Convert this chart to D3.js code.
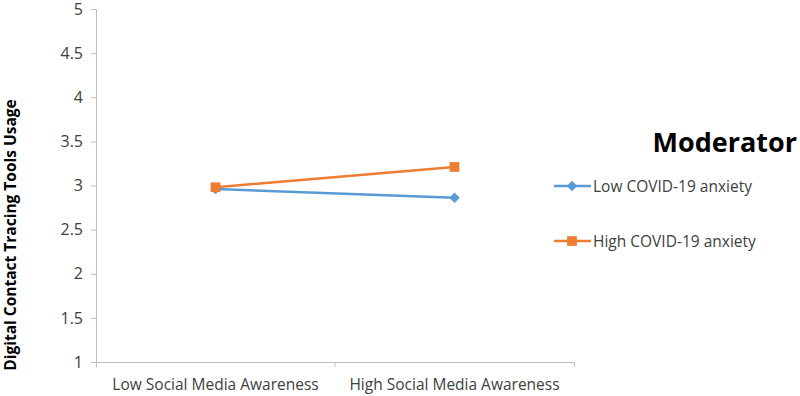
<!DOCTYPE html>
<html>
<head>
<meta charset="utf-8">
<script src="https://cdn.jsdelivr.net/npm/d3@7"></script>
<style>
  body { margin: 0; background: #fff; }
  text { font-family: "Open Sans", "Liberation Sans", sans-serif; }
</style>
</head>
<body>
<div id="container"></div>
<script>
/* DATA */
const categories = ["Low Social Media Awareness", "High Social Media Awareness"]
const lowAnxiety = [2.96, 2.86]
const highAnxiety = [2.98, 3.21]
const yTicks = [1, 1.5, 2, 2.5, 3, 3.5, 4, 4.5, 5]
const seriesNames = ["Low COVID-19 anxiety", "High COVID-19 anxiety"]

/* CONSTANTS */
const width = 800
const height = 396
const margin = { top: 9, bottom: 34, left: 96, right: 226 }
const colors = ["#5B9BD5", "#ED7D31"]

const svg = d3.select("#container")
  .append("svg")
  .attr("width", width)
  .attr("height", height)

/* SCALES */
const xScale = d3.scaleBand()
  .domain(categories)
  .range([margin.left, width - margin.right])

const yScale = d3.scaleLinear()
  .domain([1, 5])
  .range([height - margin.bottom, margin.top])

// axes
const yAxis = d3.axisLeft(yScale).tickValues(yTicks).tickSize(5).tickPadding(8)
  .tickFormat(d => d)
const gy = svg.append("g")
  .attr("transform", `translate(${margin.left},0)`)
  .call(yAxis)
gy.selectAll("line, path").attr("stroke", "#BFBFBF")
gy.selectAll("text").attr("font-size", 16).attr("fill", "#404040")

const xAxis = d3.axisBottom(xScale).tickSize(5).tickSizeOuter(5).tickPadding(12)
const gx = svg.append("g")
  .attr("transform", `translate(0,${height - margin.bottom})`)
  .call(xAxis)
gx.selectAll("path").attr("stroke", "#BFBFBF")
// Excel puts tick marks between categories
gx.selectAll(".tick line")
  .attr("x1", xScale.bandwidth() / 2).attr("x2", xScale.bandwidth() / 2)
  .attr("stroke", "#BFBFBF")
gx.selectAll(".tick").filter((d, i) => i === categories.length - 1).select("line").remove()
gx.selectAll("text").attr("font-size", 15.5).attr("fill", "#404040")

// y title
svg.append("text")
  .attr("transform", "translate(16,235) rotate(-90)")
  .attr("text-anchor", "middle")
  .attr("font-size", 15.5)
  .attr("font-weight", "bold")
  .attr("fill", "#000")
  .text("Digital Contact Tracing Tools Usage")

/* LINES */
const series = [lowAnxiety, highAnxiety]
const line = d3.line()
  .x((d, i) => xScale(categories[i]) + xScale.bandwidth() / 2)
  .y(d => yScale(d))

const diamond = d3.symbol().type(d3.symbolDiamond2).size(70)
const square = d3.symbol().type(d3.symbolSquare).size(95)

series.forEach((vals, s) => {
  svg.append("path")
    .datum(vals)
    .attr("d", line)
    .attr("fill", "none")
    .attr("stroke", colors[s])
    .attr("stroke-width", 2.5)
  svg.selectAll(".m" + s)
    .data(vals)
    .join("path")
    .attr("class", "m" + s)
    .attr("transform", (d, i) => `translate(${xScale(categories[i]) + xScale.bandwidth() / 2},${yScale(d)})`)
    .attr("d", s === 0 ? diamond : square)
    .attr("fill", colors[s])
})

/* LEGEND */
svg.append("text")
  .attr("x", 797)
  .attr("y", 152)
  .attr("text-anchor", "end")
  .attr("font-size", 27)
  .attr("font-weight", "bold")
  .attr("fill", "#000")
  .text("Moderator")

const legendY = [186, 241]
seriesNames.forEach((name, s) => {
  const g = svg.append("g").attr("transform", `translate(0,${legendY[s]})`)
  g.append("line")
    .attr("x1", 554).attr("x2", 591)
    .attr("stroke", colors[s]).attr("stroke-width", 2.5)
  g.append("path")
    .attr("transform", "translate(572,0)")
    .attr("d", s === 0 ? diamond : square)
    .attr("fill", colors[s])
  g.append("text")
    .attr("x", 593)
    .attr("y", 5.5)
    .attr("font-size", 15.5)
    .attr("fill", "#404040")
    .text(name)
})
</script>
</body>
</html>
